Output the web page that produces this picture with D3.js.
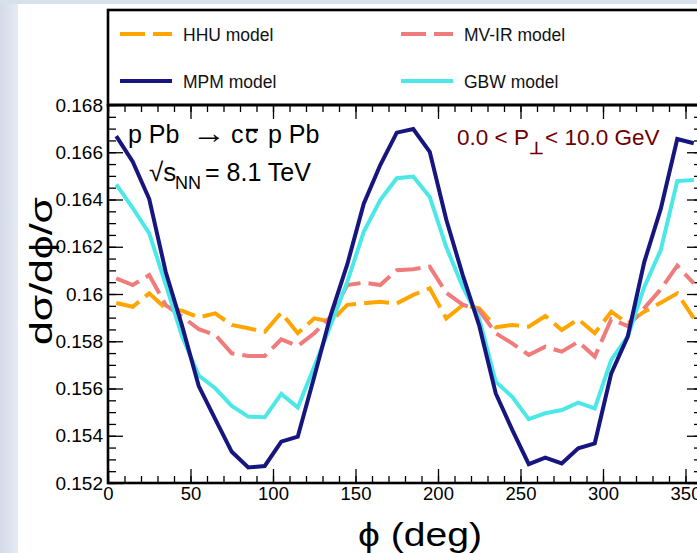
<!DOCTYPE html>
<html>
<head>
  <meta charset="UTF-8">
  <title>Azimuthal correlation, p Pb at 8.1 TeV</title>
  <style>
    body { margin: 0; background: #fff; }
    svg text { font-family: "Liberation Sans", Arial, sans-serif; }
    .frame { fill: none; stroke: #000; stroke-width: 2.6px; }
    .tick line { stroke: #000; stroke-width: 1.3px; }
    .curve { fill: none; stroke-width: 4px; }
  </style>
</head>
<body>
  <svg id="chart" width="697" height="553"></svg>

  <script src="https://cdn.jsdelivr.net/npm/d3@7"></script>
  <script>
    // bin centres in phi (deg)
    const phi = [5, 15, 25, 35, 45, 55, 65, 75, 85, 95, 105, 115,
                 125, 135, 145, 155, 165, 175, 185, 195, 205, 215, 225, 235,
                 245, 255, 265, 275, 285, 295, 305, 315, 325, 335, 345, 355];

    const hhu = [0.15962, 0.15946, 0.16003, 0.15939, 0.15929, 0.15901, 0.15918, 0.15869, 0.15855, 0.15840, 0.15921, 0.15834,
                 0.15897, 0.15883, 0.15954, 0.15961, 0.15967, 0.15960, 0.15996, 0.16024, 0.15897, 0.15953, 0.15939, 0.15859,
                 0.15869, 0.15862, 0.15907, 0.15848, 0.15893, 0.15834, 0.15925, 0.15876, 0.15925, 0.15963, 0.16003, 0.15898];

    const mvir = [0.16066, 0.16038, 0.16080, 0.15953, 0.15904, 0.15851, 0.15827, 0.15749, 0.15738, 0.15738, 0.15808, 0.15780,
                  0.15834, 0.15904, 0.16038, 0.16048, 0.16038, 0.16101, 0.16105, 0.16116, 0.16005, 0.15955, 0.15930, 0.15834,
                  0.15791, 0.15742, 0.15777, 0.15756, 0.15798, 0.15735, 0.15893, 0.15864, 0.15940, 0.16020, 0.16120, 0.16045];

    const mpm = [0.16668, 0.16560, 0.16402, 0.16093, 0.15863, 0.15610, 0.15470, 0.15332, 0.15266, 0.15272, 0.15375, 0.15396,
                 0.15650, 0.15911, 0.16125, 0.16382, 0.16546, 0.16683, 0.16698, 0.16602, 0.16315, 0.16080, 0.15866, 0.15579,
                 0.15425, 0.15280, 0.15307, 0.15283, 0.15347, 0.15368, 0.15664, 0.15820, 0.16135, 0.16360, 0.16656, 0.16638];

    const gbw = [0.16464, 0.16364, 0.16257, 0.16040, 0.15819, 0.15655, 0.15601, 0.15526, 0.15481, 0.15478, 0.15577, 0.15520,
                 0.15692, 0.15870, 0.16051, 0.16263, 0.16398, 0.16490, 0.16497, 0.16411, 0.16199, 0.16030, 0.15895, 0.15629,
                 0.15565, 0.15470, 0.15495, 0.15509, 0.15540, 0.15516, 0.15721, 0.15820, 0.16030, 0.16186, 0.16478, 0.16483];

    const xTicks = [0, 50, 100, 150, 200, 250, 300, 350];
    const yTicks = [0.152, 0.154, 0.156, 0.158, 0.16, 0.162, 0.164, 0.166, 0.168];
    const yTickLabels = ["0.152", "0.154", "0.156", "0.158", "0.16", "0.162", "0.164", "0.166", "0.168"];

    const seriesNames = ["HHU model", "MV-IR model", "GBW model", "MPM model"];
    const seriesData = [hhu, mvir, gbw, mpm];
    const seriesColors = ["#ffa500", "#f07b7b", "#4ce8e8", "#16167e"];
    const seriesDash = ["25,8", "25,8", null, null];

    const W = 697, H = 553;
    const plot = { left: 108, right: 702, top: 105, bottom: 483 };

    const svg = d3.select("#chart");

    // slide-like background strip on the left / top
    const grad = svg.append("defs").append("linearGradient")
      .attr("id", "bg").attr("x1", 0).attr("x2", 1).attr("y1", 0).attr("y2", 0);
    grad.append("stop").attr("offset", "0%").attr("stop-color", "#d3dbe8");
    grad.append("stop").attr("offset", "100%").attr("stop-color", "#e6ebf3");
    svg.append("rect").attr("x", 0).attr("y", 0).attr("width", W).attr("height", H).attr("fill", "#fff");
    svg.append("rect").attr("x", 0).attr("y", 0).attr("width", 18).attr("height", H).attr("fill", "url(#bg)");
    svg.append("rect").attr("x", 0).attr("y", 0).attr("width", W).attr("height", 4).attr("fill", "#d8e0ec");

    const x = d3.scaleLinear().domain([0, 360]).range([plot.left, plot.right]);
    const y = d3.scaleLinear().domain([0.152, 0.168]).range([plot.bottom, plot.top]);

    // minor ticks
    const xMinor = d3.range(0, 361, 10);
    const yMinor = d3.range(0, 33).map(i => 0.152 + i * 0.0005);

    function noDomain(g) { g.select(".domain").remove(); }

    svg.append("g").attr("transform", `translate(0,${plot.bottom})`)
      .call(d3.axisBottom(x).tickValues(xMinor).tickSize(-7).tickFormat("")).call(noDomain);
    svg.append("g").attr("transform", `translate(0,${plot.top})`)
      .call(d3.axisTop(x).tickValues(xMinor).tickSize(-7).tickFormat("")).call(noDomain);
    svg.append("g").attr("transform", `translate(${plot.left},0)`)
      .call(d3.axisLeft(y).tickValues(yMinor).tickSize(-8).tickFormat("")).call(noDomain);
    svg.append("g").attr("transform", `translate(${plot.right},0)`)
      .call(d3.axisRight(y).tickValues(yMinor).tickSize(-8).tickFormat("")).call(noDomain);

    // major ticks + labels
    svg.append("g").attr("transform", `translate(0,${plot.bottom})`)
      .call(d3.axisBottom(x).tickValues(xTicks).tickSizeInner(-14).tickSizeOuter(0).tickPadding(4))
      .call(noDomain)
      .selectAll("text").attr("font-size", 18.5).attr("fill", "#000")
      .style("font-family", "'Liberation Sans', Arial, sans-serif");
    svg.append("g").attr("transform", `translate(0,${plot.top})`)
      .call(d3.axisTop(x).tickValues(xTicks).tickSizeInner(-14).tickSizeOuter(0).tickFormat(""))
      .call(noDomain);
    svg.append("g").attr("transform", `translate(${plot.left},0)`)
      .call(d3.axisLeft(y).tickValues(yTicks).tickSizeInner(-15).tickSizeOuter(0).tickPadding(5)
        .tickFormat((d, i) => yTickLabels[i]))
      .call(noDomain)
      .selectAll("text").attr("font-size", 19).attr("fill", "#000")
      .style("font-family", "'Liberation Sans', Arial, sans-serif");
    svg.append("g").attr("transform", `translate(${plot.right},0)`)
      .call(d3.axisRight(y).tickValues(yTicks).tickSizeInner(-15).tickSizeOuter(0).tickFormat(""))
      .call(noDomain);

    // curves
    const line = d3.line().x(d => x(d[0])).y(d => y(d[1]));
    seriesData.forEach((vals, i) => {
      svg.append("path")
        .attr("class", "curve")
        .attr("d", line(phi.map((p, k) => [p, vals[k]])))
        .attr("stroke", seriesColors[i])
        .attr("stroke-dasharray", seriesDash[i]);
    });

    // frame
    svg.append("rect").attr("class", "frame")
      .attr("x", plot.left).attr("y", plot.top)
      .attr("width", plot.right - plot.left).attr("height", plot.bottom - plot.top);

    // legend box
    svg.append("rect").attr("class", "frame")
      .attr("x", plot.left).attr("y", 10)
      .attr("width", plot.right - plot.left).attr("height", plot.top - 10);

    const legendOrder = [0, 1, 3, 2]; // HHU, MV-IR / MPM, GBW
    legendOrder.forEach((s, k) => {
      const col = k % 2, row = Math.floor(k / 2);
      const lx = col === 0 ? 120 : 401;
      const ly = row === 0 ? 34 : 81;
      svg.append("line")
        .attr("x1", lx).attr("x2", lx + 52).attr("y1", ly).attr("y2", ly)
        .attr("stroke", seriesColors[s]).attr("stroke-width", 4)
        .attr("stroke-dasharray", seriesDash[s]);
      svg.append("text")
        .attr("x", lx + 63).attr("y", ly + 6.5)
        .attr("font-size", 17.5).attr("fill", "#111")
        .text(seriesNames[s]);
    });

    // process label
    const t1 = [["p Pb", 128], ["\u2192", 192], ["c", 231], ["c", 245], ["p Pb", 268]];
    t1.forEach(([s, px]) => {
      const t = svg.append("text").attr("x", px).attr("y", 143).attr("font-size", 25).attr("fill", "#000").text(s);
      if (s === "\u2192") t.attr("font-size", 30).attr("textLength", 34).attr("lengthAdjust", "spacingAndGlyphs");
    });
    svg.append("line").attr("x1", 246).attr("x2", 258).attr("y1", 130).attr("y2", 130)
      .attr("stroke", "#000").attr("stroke-width", 2.4);

    svg.append("text").attr("x", 149).attr("y", 181).attr("font-size", 26).text("\u221As");
    svg.append("text").attr("x", 175).attr("y", 189).attr("font-size", 18).text("NN");
    svg.append("text").attr("x", 205).attr("y", 181).attr("font-size", 25).text("= 8.1 TeV");

    // pT range
    const red = "#6e0000";
    svg.append("text").attr("x", 457).attr("y", 145).attr("font-size", 22.5).attr("fill", red).text("0.0 < P");
    svg.append("text").attr("x", 529).attr("y", 153.5).attr("font-size", 17).attr("font-weight", "bold")
      .attr("fill", red).text("\u22A5");
    svg.append("text").attr("x", 545).attr("y", 145).attr("font-size", 22.5).attr("fill", red).text("< 10.0 GeV");

    // axis titles
    svg.append("text")
      .attr("transform", "translate(52,271) rotate(-90)")
      .attr("text-anchor", "middle")
      .attr("font-size", 32)
      .attr("textLength", 148).attr("lengthAdjust", "spacingAndGlyphs")
      .text("d\u03C3/d\u03D5/\u03C3");

    svg.append("text")
      .attr("x", 420).attr("y", 546)
      .attr("text-anchor", "middle")
      .attr("font-size", 33)
      .attr("textLength", 124).attr("lengthAdjust", "spacingAndGlyphs")
      .text("\u03D5 (deg)");
  </script>
</body>
</html>
